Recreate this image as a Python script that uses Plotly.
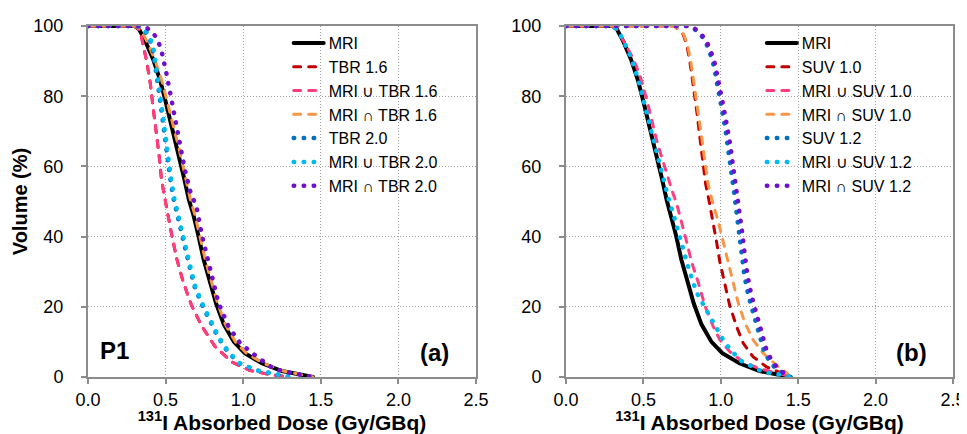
import plotly.graph_objects as go

# ---------------- data ----------------
# Panel (a): TBR thresholds
mri_dose = [0.0, 0.30, 0.33, 0.37, 0.42, 0.465, 0.50, 0.54, 0.58, 0.62, 0.65, 0.68, 0.71, 0.745, 0.78, 0.825, 0.875, 0.94, 1.01, 1.12, 1.25, 1.38, 1.45]
mri_vol = [100, 100, 99, 95.6, 90.5, 84.5, 78.5, 71.5, 64.5, 56.5, 50.5, 46, 40.5, 33.5, 28, 21, 15, 10, 6.8, 3.9, 1.7, 0.6, 0]

tbr16_dose = [0.0, 0.30, 0.33, 0.346, 0.378, 0.40, 0.421, 0.443, 0.459, 0.474, 0.495, 0.518, 0.539, 0.571, 0.614, 0.668, 0.733, 0.818, 0.926, 1.04, 1.17, 1.30]
tbr16_vol = [100, 100, 99, 96.6, 89.9, 84.1, 76.3, 68.6, 62.8, 56.0, 50.5, 45.5, 40.6, 33.8, 27.0, 20.3, 14.5, 8.7, 4.3, 1.9, 0.7, 0]

uni16_dose = [0.0, 0.30, 0.33, 0.346, 0.378, 0.40, 0.421, 0.443, 0.459, 0.474, 0.495, 0.518, 0.539, 0.571, 0.614, 0.668, 0.733, 0.818, 0.926, 1.04, 1.17, 1.30]
uni16_vol = [100, 100, 99, 96.6, 89.9, 84.1, 76.3, 68.6, 62.8, 56.0, 50.5, 45.5, 40.6, 33.8, 27.0, 20.3, 14.5, 8.7, 4.3, 1.9, 0.7, 0]

int16_dose = [0.0, 0.31, 0.34, 0.38, 0.43, 0.475, 0.51, 0.55, 0.59, 0.63, 0.66, 0.69, 0.72, 0.755, 0.79, 0.835, 0.885, 0.95, 1.02, 1.13, 1.26, 1.39, 1.45]
int16_vol = [100, 100, 99, 95.6, 90.5, 84.5, 78.5, 71.5, 64.5, 56.5, 50.5, 46, 40.5, 33.5, 28, 21, 15, 10, 6.8, 3.9, 1.7, 0.6, 0]

tbr20_dose = [0.0, 0.315, 0.36, 0.395, 0.416, 0.438, 0.454, 0.469, 0.48, 0.491, 0.513, 0.53, 0.55, 0.57, 0.588, 0.62, 0.652, 0.684, 0.728, 0.781, 0.835, 0.899, 0.974, 1.082, 1.19, 1.30]
tbr20_vol = [100, 100, 99, 96.6, 93.7, 87.9, 82.1, 77.3, 73.4, 68.6, 62.5, 56.5, 51, 47, 43.5, 37.7, 31.9, 26.1, 21.2, 16.4, 11.6, 7.2, 3.9, 1.9, 1.0, 0]

uni20_dose = [0.0, 0.32, 0.367, 0.40, 0.421, 0.443, 0.459, 0.474, 0.485, 0.496, 0.518, 0.535, 0.555, 0.575, 0.593, 0.625, 0.657, 0.689, 0.733, 0.786, 0.84, 0.904, 0.979, 1.087, 1.194, 1.30]
uni20_vol = [100, 100, 99, 96.6, 93.7, 87.9, 82.1, 77.3, 73.4, 68.6, 62.5, 56.5, 51, 47, 43.5, 37.7, 31.9, 26.1, 21.2, 16.4, 11.6, 7.2, 3.9, 1.9, 1.0, 0]

int20_dose = [0.0, 0.33, 0.378, 0.421, 0.453, 0.474, 0.503, 0.528, 0.561, 0.593, 0.625, 0.657, 0.70, 0.733, 0.765, 0.808, 0.84, 0.904, 0.979, 1.087, 1.194, 1.30, 1.41, 1.45]
int20_vol = [100, 100, 99.5, 98, 95.6, 92.8, 87, 81.2, 73.4, 64.7, 58.9, 53.1, 48.3, 40.6, 34.8, 27.0, 21.2, 14.5, 9.7, 5.8, 2.4, 1.2, 0.5, 0]

# Panel (b): SUV thresholds
suv10_dose = [0.0, 0.70, 0.757, 0.78, 0.80, 0.817, 0.833, 0.847, 0.86, 0.873, 0.886, 0.902, 0.925, 0.95, 0.972, 0.994, 1.026, 1.058, 1.101, 1.144, 1.208, 1.295, 1.40, 1.45]
suv10_vol = [100, 100, 97.6, 94.7, 89.9, 85, 80, 75, 70, 65, 60, 55, 50, 44.4, 38.6, 32.8, 26.1, 20.3, 14.5, 9.7, 5.8, 2.9, 1.0, 0]

uni10_dose = [0.0, 0.30, 0.33, 0.37, 0.434, 0.477, 0.521, 0.553, 0.585, 0.617, 0.65, 0.692, 0.714, 0.746, 0.779, 0.811, 0.854, 0.897, 0.95, 0.994, 1.058, 1.144, 1.25, 1.38, 1.45]
uni10_vol = [100, 100, 99, 96, 90.8, 86, 79.2, 73.4, 67.6, 62.8, 58, 52.2, 49.5, 44.4, 38.6, 32.8, 27, 20.3, 14.5, 10.6, 7.2, 4.3, 2.4, 1.0, 0]

int10_dose = [0.0, 0.70, 0.76, 0.785, 0.806, 0.823, 0.84, 0.856, 0.871, 0.886, 0.901, 0.918, 0.945, 0.983, 1.015, 1.047, 1.079, 1.112, 1.155, 1.208, 1.273, 1.36, 1.42, 1.45]
int10_vol = [100, 100, 97.6, 94.7, 89.9, 85, 80, 75, 70, 65, 60, 55, 50, 44.4, 38.6, 32.8, 27, 21.2, 15.5, 10.6, 6.8, 3.4, 1.4, 0]

suv12_dose = [0.0, 0.80, 0.82, 0.86, 0.898, 0.926, 0.945, 0.96, 0.974, 0.988, 1.002, 1.016, 1.03, 1.044, 1.058, 1.072, 1.086, 1.103, 1.12, 1.135, 1.152, 1.178, 1.21, 1.242, 1.277, 1.31, 1.355, 1.405, 1.45]
suv12_vol = [100, 100, 99.5, 98, 96, 93, 90.5, 87.5, 84.5, 81, 77.5, 74, 70.5, 66.5, 61.5, 57, 52.5, 46.4, 40.6, 34.8, 29, 23.2, 18.3, 12.6, 7.7, 4.8, 2.4, 1.0, 0]

uni12_dose = [0.0, 0.30, 0.33, 0.37, 0.42, 0.465, 0.50, 0.54, 0.58, 0.62, 0.66, 0.703, 0.746, 0.789, 0.843, 0.908, 0.972, 1.026, 1.123, 1.273, 1.40, 1.45]
uni12_vol = [100, 100, 99, 96, 91, 85, 79, 72, 65, 58, 51.2, 44.9, 37.7, 31.4, 24.1, 18.8, 13.5, 9.7, 4.8, 1.4, 0.5, 0]

int12_dose = [0.0, 0.80, 0.825, 0.865, 0.905, 0.935, 0.955, 0.97, 0.985, 1.0, 1.015, 1.03, 1.045, 1.06, 1.075, 1.09, 1.105, 1.123, 1.14, 1.155, 1.172, 1.198, 1.23, 1.262, 1.295, 1.327, 1.37, 1.413, 1.45]
int12_vol = [100, 100, 99.5, 98, 96, 93, 90.5, 87.5, 84.5, 81, 77.5, 74, 70.5, 66.5, 61.5, 57, 52.5, 46.4, 40.6, 34.8, 29, 23.2, 18.3, 12.6, 7.7, 4.8, 2.4, 1.0, 0]

x_ticks = [0.0, 0.5, 1.0, 1.5, 2.0, 2.5]
y_ticks = [0, 20, 40, 60, 80, 100]

# ---------------- styles ----------------
BLACK = "#000000"
RED = "#C00000"
PINK = "#FF3D80"
ORANGE = "#F79646"
BLUE = "#0070C0"
CYAN = "#00BAF2"
PURPLE = "#6F10D0"
DASH = "7px,8px"      # drawn with round caps -> ~10px dashes, ~5px gaps
DOT = "0.5px,9.5px"   # drawn with round caps -> round dots every 10px
FONT = "Liberation Sans, Arial, Helvetica, sans-serif"

fig = go.Figure()


def add(x, y, name, color, dash, width, xa, ya, leg):
    fig.add_trace(go.Scatter(
        x=x, y=y, mode="lines", name=name,
        line=dict(color=color, dash=dash, width=width),
        xaxis=xa, yaxis=ya, legend=leg, hoverinfo="skip"))


add(mri_dose, mri_vol, "MRI", BLACK, "solid", 4, "x", "y", "legend")
add(tbr16_dose, tbr16_vol, "TBR 1.6", RED, DASH, 3, "x", "y", "legend")
add(uni16_dose, uni16_vol, "MRI ∪ TBR 1.6", PINK, DASH, 3, "x", "y", "legend")
add(int16_dose, int16_vol, "MRI ∩ TBR 1.6", ORANGE, DASH, 3, "x", "y", "legend")
add(tbr20_dose, tbr20_vol, "TBR 2.0", BLUE, DOT, 4.5, "x", "y", "legend")
add(uni20_dose, uni20_vol, "MRI ∪ TBR 2.0", CYAN, DOT, 4.5, "x", "y", "legend")
add(int20_dose, int20_vol, "MRI ∩ TBR 2.0", PURPLE, DOT, 4.5, "x", "y", "legend")

add(mri_dose, mri_vol, "MRI", BLACK, "solid", 4, "x2", "y2", "legend2")
add(suv10_dose, suv10_vol, "SUV 1.0", RED, DASH, 3, "x2", "y2", "legend2")
add(uni10_dose, uni10_vol, "MRI ∪ SUV 1.0", PINK, DASH, 3, "x2", "y2", "legend2")
add(int10_dose, int10_vol, "MRI ∩ SUV 1.0", ORANGE, DASH, 3, "x2", "y2", "legend2")
add(suv12_dose, suv12_vol, "SUV 1.2", BLUE, DOT, 4.5, "x2", "y2", "legend2")
add(uni12_dose, uni12_vol, "MRI ∪ SUV 1.2", CYAN, DOT, 4.5, "x2", "y2", "legend2")
add(int12_dose, int12_vol, "MRI ∩ SUV 1.2", PURPLE, DOT, 4.5, "x2", "y2", "legend2")

axis_common = dict(
    showline=True, linecolor="#8C8C8C", linewidth=2, mirror=True,
    showgrid=True, gridcolor="#A0A0A0", gridwidth=1, griddash="1px,2px",
    zeroline=False, ticks="outside", ticklen=5, tickwidth=2, tickcolor="#8C8C8C",
    tickfont=dict(size=18, family=FONT, color="#000000"), automargin=False,
)
xtitle = dict(text="<b><sup>131</sup>I Absorbed Dose (Gy/GBq)</b>",
              font=dict(size=21, family=FONT, color="#000000"), standoff=12)

# the page body adds an 8px offset, so the figure is 8px smaller and margins compensate
fig.update_layout(
    width=959, height=426,
    margin=dict(l=80, r=14, t=18, b=57),
    plot_bgcolor="white", paper_bgcolor="white",
    showlegend=True,
    xaxis=dict(domain=[0, 0.4486], range=[0, 2.5], tickvals=x_ticks, tickformat=".1f",
               anchor="y", title=xtitle, **axis_common),
    yaxis=dict(domain=[0, 1], range=[0, 100], tickvals=y_ticks, anchor="x", ticklabelstandoff=14,
               title=dict(text="<b>Volume (%)</b>", font=dict(size=20, family=FONT, color="#000000"), standoff=0),
               **axis_common),
    xaxis2=dict(domain=[0.5526, 1.0], range=[0, 2.5], tickvals=x_ticks, tickformat=".1f",
                anchor="y2", title=xtitle, **axis_common),
    yaxis2=dict(domain=[0, 1], range=[0, 100], tickvals=y_ticks, anchor="x2", ticklabelstandoff=14,
                **axis_common),
    legend=dict(x=0.232, y=1.0, xanchor="left", yanchor="top", bgcolor="rgba(0,0,0,0)",
                font=dict(size=16, family=FONT, color="#000000"), tracegroupgap=0, itemwidth=30),
    legend2=dict(x=0.779, y=1.0, xanchor="left", yanchor="top", bgcolor="rgba(0,0,0,0)",
                 font=dict(size=16, family=FONT, color="#000000"), tracegroupgap=0, itemwidth=30),
    annotations=[
        dict(text="<b>P1</b>", x=0.171, y=7.5, xref="x", yref="y", showarrow=False,
             font=dict(size=24, family=FONT, color="#000000")),
        dict(text="<b>(a)</b>", x=2.23, y=7.0, xref="x", yref="y", showarrow=False,
             font=dict(size=24, family=FONT, color="#000000")),
        dict(text="<b>(b)</b>", x=2.23, y=7.0, xref="x2", yref="y2", showarrow=False,
             font=dict(size=24, family=FONT, color="#000000")),
    ],
)

# round line caps so dotted series show round dots (as in the original)
post = """
var gd = document.getElementById('{plot_id}');
function roundCaps() {
  gd.querySelectorAll('path.js-line').forEach(function (p) {
    p.style.strokeLinecap = 'round';
  });
}
roundCaps();
setTimeout(roundCaps, 0);
if (gd.on) { gd.on('plotly_afterplot', roundCaps); }
"""

fig.write_html("out.html", post_script=post)
